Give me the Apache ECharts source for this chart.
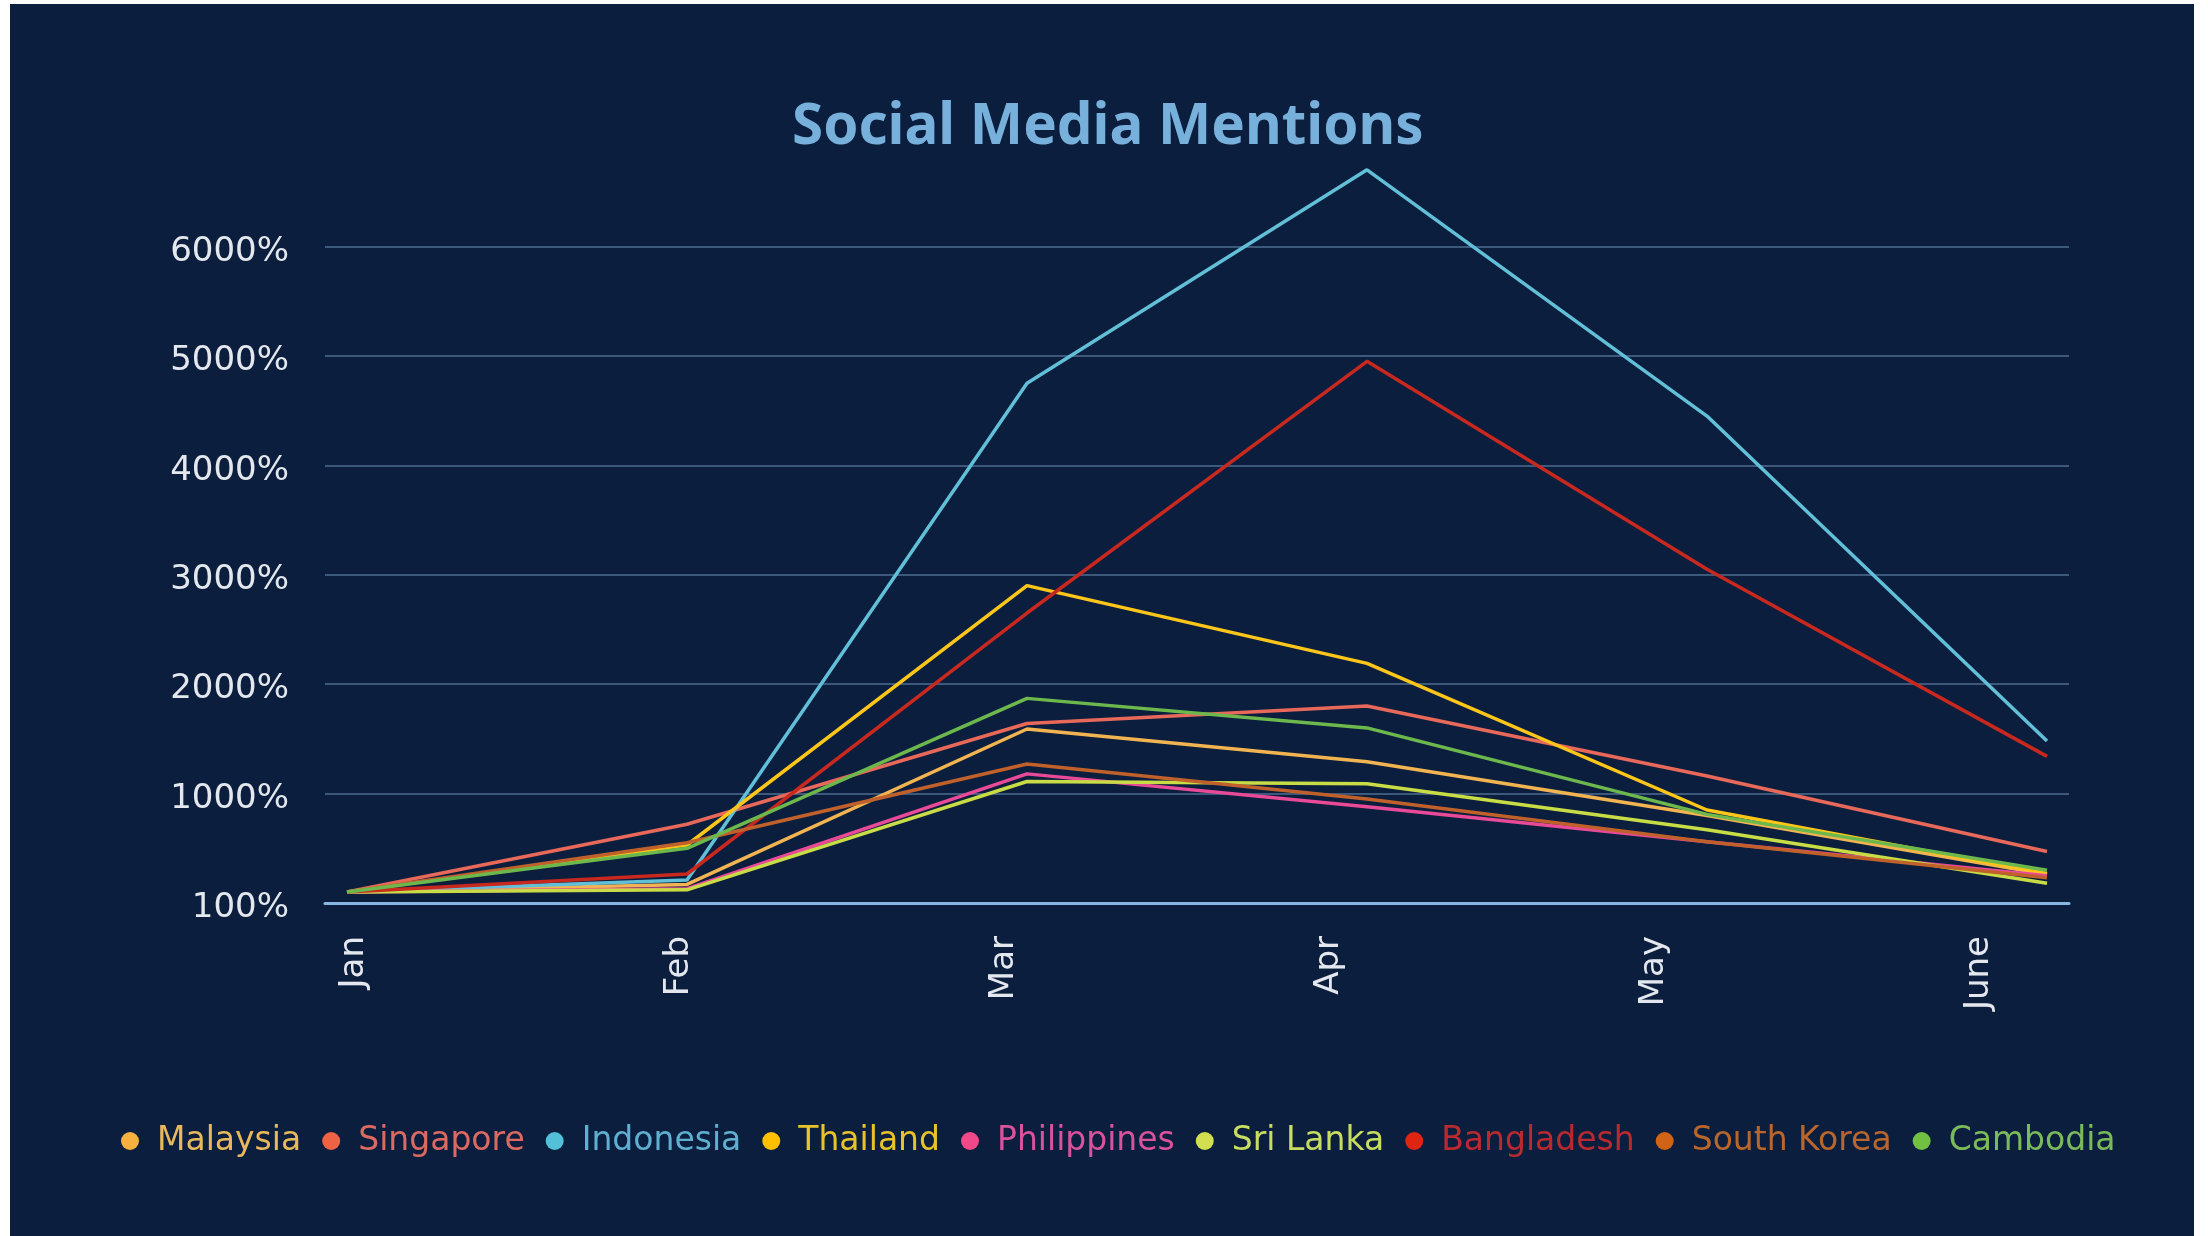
<!DOCTYPE html>
<html>
<head>
<meta charset="utf-8">
<title>Social Media Mentions</title>
<script src="https://cdn.jsdelivr.net/npm/echarts@6/dist/echarts.min.js"></script>
<style>
  html, body { margin: 0; padding: 0; background: #ffffff; }
  body { width: 2208px; height: 1236px; position: relative; overflow: hidden; }
  #chart { position: absolute; left: 10px; top: 4px; width: 2184px; height: 1232px; }
</style>
</head>
<body>
<div id="chart"></div>
<script>
// Months on the horizontal axis
const months = ['Jan', 'Feb', 'Mar', 'Apr', 'May', 'June'];

// Mentions per country, in percent
const malaysia    = [100, 170, 1590, 1290, 800, 260];
const singapore   = [100, 720, 1640, 1800, 1160, 470];
const indonesia   = [100, 210, 4750, 6700, 4450, 1480];
const thailand    = [100, 530, 2900, 2190, 850, 270];
const philippines = [100, 130, 1180, 880, 560, 250];
const sriLanka    = [100, 120, 1110, 1090, 670, 180];
const bangladesh  = [100, 265, 2650, 4950, 3050, 1340];
const southKorea  = [100, 550, 1270, 950, 560, 230];
const cambodia    = [100, 500, 1870, 1600, 810, 300];

// Value-axis tick labels, one per 1000 step
const yTickLabels = ['100%', '1000%', '2000%', '3000%', '4000%', '5000%', '6000%'];

const countries = [
  { name: 'Malaysia',    data: malaysia,    line: '#f2b451', dot: '#f5b040', text: '#e8b85a' },
  { name: 'Singapore',   data: singapore,   line: '#e8685a', dot: '#ef6244', text: '#dc6a60' },
  { name: 'Indonesia',   data: indonesia,   line: '#62bfd8', dot: '#52c0d8', text: '#5eafd0' },
  { name: 'Thailand',    data: thailand,    line: '#ffc61a', dot: '#ffc000', text: '#e8c22a' },
  { name: 'Philippines', data: philippines, line: '#e84a98', dot: '#f04888', text: '#d8529c' },
  { name: 'Sri Lanka',   data: sriLanka,    line: '#c8dc46', dot: '#d2e050', text: '#c8dc62' },
  { name: 'Bangladesh',  data: bangladesh,  line: '#c8281e', dot: '#e02412', text: '#b82a30' },
  { name: 'South Korea', data: southKorea,  line: '#c0602a', dot: '#d06414', text: '#b8662c' },
  { name: 'Cambodia',    data: cambodia,    line: '#6cb84c', dot: '#72c042', text: '#7aba5a' }
];

const labelFont = 'DejaVu Sans';
const yMax = 7000;
const plotTop = 133;
const plotBottom = 333;

const hiddenValueAxis = (gridIndex) => ({
  type: 'value', gridIndex, min: 0, max: yMax, interval: 1000,
  show: false, splitLine: { show: false }
});

const chart = echarts.init(document.getElementById('chart'), null, { renderer: 'canvas' });

chart.setOption({
  backgroundColor: '#0b1e3e',
  animation: false,
  title: {
    text: 'Social Media Mentions',
    left: 777,
    top: 90,
    textStyle: {
      fontFamily: 'Noto Sans',
      fontWeight: 'bold',
      fontSize: 56.5,
      color: '#78b0dc'
    }
  },
  legend: {
    left: 106,
    top: 1114,
    icon: 'circle',
    itemWidth: 18,
    itemHeight: 18,
    itemGap: 21,
    textStyle: {
      fontFamily: labelFont,
      fontSize: 33,
      lineHeight: 36,
      padding: [0, 0, 0, 13]
    },
    data: countries.map(c => ({ name: c.name, textStyle: { color: c.text } }))
  },
  grid: [
    // plotting area for the lines
    { left: 337, right: 147, top: plotTop, bottom: plotBottom },
    // frame with gridlines, baseline and value labels
    { left: 315, right: 125, top: plotTop, bottom: plotBottom },
    // month labels row
    { left: 344, right: 215, top: plotTop, bottom: plotBottom }
  ],
  xAxis: [
    {
      type: 'category',
      gridIndex: 0,
      data: months,
      boundaryGap: false,
      show: false
    },
    {
      type: 'value',
      gridIndex: 1,
      min: 0,
      max: 1,
      axisLine: { show: true, lineStyle: { color: '#8ab6e2', width: 3 } },
      axisTick: { show: false },
      axisLabel: { show: false },
      splitLine: { show: false }
    },
    {
      type: 'category',
      gridIndex: 2,
      data: months,
      boundaryGap: false,
      axisLine: { show: false },
      axisTick: { show: false },
      splitLine: { show: false },
      axisLabel: {
        rotate: 90,
        margin: 33,
        fontFamily: labelFont,
        fontSize: 34,
        color: '#e4e8ee'
      }
    }
  ],
  yAxis: [
    hiddenValueAxis(0),
    {
      type: 'value',
      gridIndex: 1,
      min: 0,
      max: yMax,
      interval: 1000,
      axisLine: { show: false },
      axisTick: { show: false },
      axisLabel: {
        margin: 36,
        showMaxLabel: false,
        verticalAlign: 'top',
        lineHeight: 11,
        fontFamily: labelFont,
        fontSize: 34,
        color: '#e4e8ee',
        formatter: v => yTickLabels[Math.round(v / 1000)] || ''
      },
      splitLine: {
        show: true,
        showMinLine: false,
        showMaxLine: false,
        lineStyle: { color: '#4e6c90', width: 1.5 }
      }
    },
    hiddenValueAxis(2)
  ],
  series: countries.map(c => ({
    name: c.name,
    type: 'line',
    xAxisIndex: 0,
    yAxisIndex: 0,
    data: c.data,
    showSymbol: false,
    symbol: 'none',
    itemStyle: { color: c.dot },
    lineStyle: { color: c.line, width: 3.5 },
    emphasis: { disabled: true }
  }))
});
</script>
</body>
</html>
